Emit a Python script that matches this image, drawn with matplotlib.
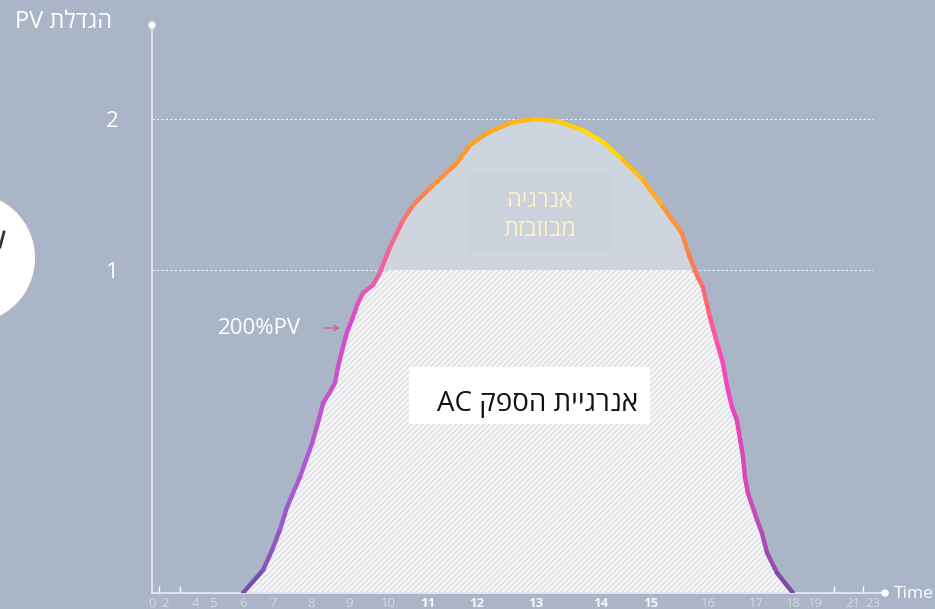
import numpy as np
import matplotlib
import matplotlib.pyplot as plt
from matplotlib.collections import LineCollection
from matplotlib.colors import LinearSegmentedColormap
from matplotlib.patches import Ellipse, Rectangle, Circle

plt.rcParams['font.family'] = ['Open Sans', 'DejaVu Sans']
plt.rcParams['hatch.linewidth'] = 1.0

# ------------------------------------------------------------------
# data
# ------------------------------------------------------------------
hours = [6.0, 6.67, 6.97, 7.18, 7.37, 7.45, 7.71, 7.84, 8.03, 8.18, 8.32, 8.45,
         8.63, 8.71, 8.82, 8.95, 9.10, 9.23, 9.36, 9.62, 9.79, 10.05, 10.38,
         10.63, 11.04, 11.59, 11.86, 12.17, 12.56, 12.95, 13.32, 13.72, 14.04,
         14.44, 14.84, 15.21, 15.54, 15.68, 15.82, 15.91, 16.04, 16.19, 16.31,
         16.40, 16.50, 16.60, 16.67, 16.73, 16.77, 16.83, 17.03, 17.16, 17.30,
         17.57, 18.0]
pv = [0.0, 0.071, 0.133, 0.195, 0.266, 0.288, 0.359, 0.402, 0.464, 0.526, 0.588,
      0.613, 0.650, 0.700, 0.752, 0.808, 0.854, 0.898, 0.929, 0.954, 0.991, 1.152,
      1.331, 1.430, 1.543, 1.709, 1.828, 1.907, 1.974, 2.0, 1.987, 1.927, 1.848,
      1.728, 1.596, 1.417, 1.245, 1.086, 0.978, 0.947, 0.854, 0.774, 0.712, 0.638,
      0.576, 0.536, 0.474, 0.421, 0.359, 0.310, 0.226, 0.186, 0.124, 0.062, 0.0]

tick_hours = [0, 2, 4, 5, 6, 7, 8, 9, 10, 11, 12, 13, 14, 15, 16, 17, 18, 19, 21, 23]
bold_hours = [11, 12, 13, 14, 15]
minor_hours = [1, 2, 3, 4, 5, 6, 19, 20, 21, 22, 23]
y_ticks = [1, 2]

title_txt = 'PV ' + 'הגדלת'[::-1]
wasted_txt = ['אנרגיה'[::-1], 'מבוזבזת'[::-1]]
ac_txt = 'AC ' + 'אנרגיית הספק'[::-1]

# the axes are not linear in the original graphic -> piecewise scales
x_ref_h = [0, 2, 4, 5, 6, 7, 8, 9, 10, 11, 12, 13, 14, 15, 16, 17, 18, 19, 21, 23, 24]
x_ref_px = [0, 13, 43, 61, 91, 121, 159, 197, 236, 276, 325, 384, 449, 499, 556,
            604, 641, 663, 701, 721, 733]
y_ref_v = [0, 1, 2, 3, 4]
y_ref_px = [0, 323, 474, 625, 776]

BG = '#aab5c8'
W = 935
H = 609

fig = plt.figure(figsize=(W / 100, H / 100), dpi=100, facecolor=BG)

ax = fig.add_axes([152 / W, 16 / H, (885 - 152) / W, (593 - 25) / H])
ax.set_facecolor('none')
ax.set_xscale('function', functions=(lambda h: np.interp(h, x_ref_h, x_ref_px),
                                     lambda p: np.interp(p, x_ref_px, x_ref_h)))
ax.set_yscale('function', functions=(lambda v: np.interp(v, y_ref_v, y_ref_px),
                                     lambda p: np.interp(p, y_ref_px, y_ref_v)))
ax.set_xlim(0, 24)
ax.set_ylim(0, 2.0 + (568 - 474) / 151)
ax.set_axisbelow(True)

h = np.array(hours)
v = np.array(pv)

# lower part: hatched
ax.fill_between(h, 0, np.minimum(v, 1), facecolor='#e3e4e8', edgecolor='white',
                hatch='//////', linewidth=0, zorder=1)
# upper part: wasted energy
ax.fill_between(h, 1, v, where=v >= 1, interpolate=True, facecolor='#cfd5df',
                linewidth=0, zorder=1)

# gradient line
stops = [(6, '#6a4aa0'), (7.5, '#a35cd6'), (9, '#d64ccc'), (10, '#f0649a'),
         (11, '#fa8a44'), (12, '#ffa020'), (13, '#ffbc14'), (14, '#ffe000'),
         (15, '#ffae22'), (15.8, '#ff7a52'), (16.3, '#ff44c0'), (17, '#c64cb8'),
         (18, '#6a4aa0')]
cmap = LinearSegmentedColormap.from_list(
    'pv', [((s - 6) / 12, c) for s, c in stops])
pts = np.column_stack([h, v])
segs = np.stack([pts[:-1], pts[1:]], axis=1)
mid = (h[:-1] + h[1:]) / 2
lc = LineCollection(segs, colors=cmap((mid - 6) / 12), linewidths=3.2,
                    capstyle='round', joinstyle='round', zorder=3)
ax.add_collection(lc)

# dotted guides
for yv in y_ticks:
    ax.plot([0, 23], [yv, yv], color='white', lw=0.8, ls=(0, (2, 2)),
            alpha=0.85, zorder=0.5)

# spines / ticks
for s in ['top', 'right']:
    ax.spines[s].set_visible(False)
for s in ['left', 'bottom']:
    ax.spines[s].set_color('#e4e8ef')
    ax.spines[s].set_linewidth(1.3)

ax.set_xticks(tick_hours)
ax.set_xticklabels([str(t) for t in tick_hours])
ax.set_xticks(minor_hours, minor=True)
ax.tick_params(axis='x', which='major', length=0, pad=3, labelsize=9.5,
               labelcolor='#d3d9e4')
ax.tick_params(axis='x', which='minor', length=5, width=1, direction='in',
               color='white')
for lab, t in zip(ax.get_xticklabels(), tick_hours):
    if t in bold_hours:
        lab.set_color('#f4f6fa')
        lab.set_fontweight('bold')

ax.set_yticks(y_ticks)
ax.set_yticklabels([str(t) for t in y_ticks])
ax.tick_params(axis='y', length=0, pad=24, labelsize=16, labelcolor='white')

# ------------------------------------------------------------------
# overlay in pixel coordinates for annotations
# ------------------------------------------------------------------
ov = fig.add_axes([0, 0, 1, 1], zorder=5)
ov.set_xlim(0, W)
ov.set_ylim(H, 0)
ov.axis('off')
ov.set_facecolor('none')

ov.add_patch(Ellipse((-30, 258), 130, 130, color='white', lw=0))
ov.plot([0, 4], [247, 232], color='#333333', lw=2)

ov.add_patch(Circle((152, 25), 3, color='white'))
ov.add_patch(Circle((885, 593), 3, color='white'))
ov.text(15, 22, title_txt, color='white', fontsize=17, ha='left', va='center')
ov.text(894, 594, 'Time', color='white', fontsize=12.5, ha='left', va='center')

ov.text(259, 328, '200%PV', color='white', fontsize=16, ha='center', va='center')
ov.annotate('', xy=(343, 328), xytext=(321, 328),
            arrowprops=dict(arrowstyle='->', color='#d0608c', lw=0.9))

ov.add_patch(Rectangle((468, 173), 145, 80, facecolor='#c9d0db', alpha=0.55, lw=0))
ov.text(540, 201, wasted_txt[0], color='#fdf0c4', fontsize=17, ha='center', va='center')
ov.text(540, 230, wasted_txt[1], color='#fdf0c4', fontsize=17, ha='center', va='center')

ov.add_patch(Rectangle((409, 367), 241, 57, facecolor='white', lw=0))
ov.text(538, 404, ac_txt, color='#111111', fontsize=20, ha='center', va='center')

fig.savefig('out.png', dpi=100, facecolor=BG)
